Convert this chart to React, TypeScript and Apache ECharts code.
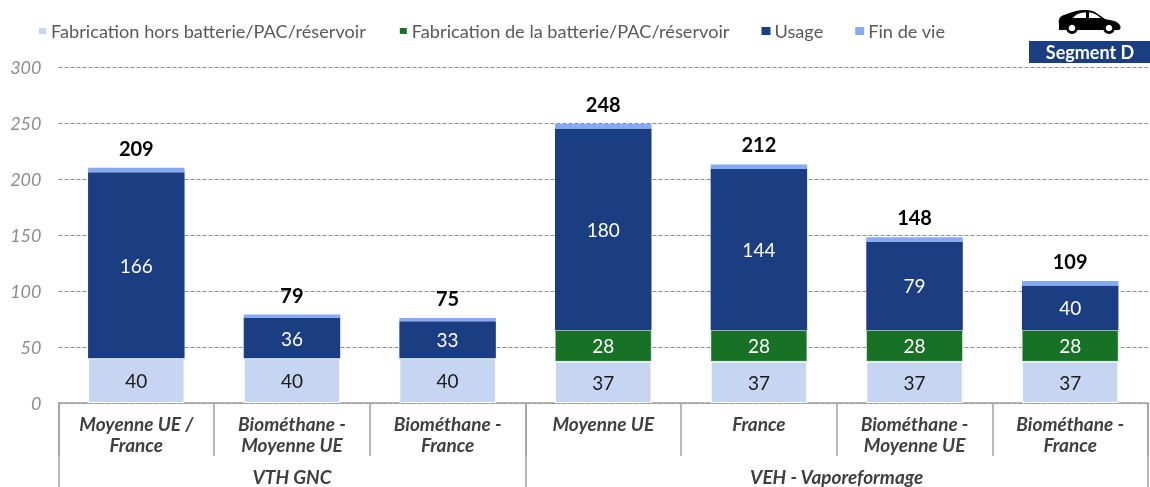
import React, { useEffect, useRef } from "react";
import * as echarts from "echarts";

const categories = ["Moyenne UE /\nFrance", "Biométhane -\nMoyenne UE", "Biométhane -\nFrance", "Moyenne UE", "France", "Biométhane -\nMoyenne UE", "Biométhane -\nFrance"];
const fabHors = [40, 40, 40, 37, 37, 37, 37];
const fabBatt = [null, null, null, 28, 28, 28, 28];
const usage = [166, 36, 33, 180, 144, 79, 40];
const finVie = [4, 3, 3, 4, 4, 4, 4];
const totals = [209, 79, 75, 248, 212, 148, 109];
const groups = ["VTH GNC", "VEH - Vaporeformage"];
const groupCenters = [1.5, 5];
const groupEdges = [0, 3, 7];
const seriesNames = ["Fabrication hors batterie/PAC/réservoir", "Fabrication de la batterie/PAC/réservoir", "Usage", "Fin de vie"];

const FONT = "Lato";
const CAR = "M1 14 C0 9 2 6 6 5 C10 4 13 2 18 1 C24 -0.5 32 -0.5 37 2 C40 4 44 7 47 9 C52 10 59 11 61 14 C63 16 63 19 61 20 L1 20 Z M15 8 L28 8 L28 2.5 C22 2.5 18 4 15 8 Z M31 8 L43 8 C39 5 36 2.5 31 2.5 Z M8 18 A6 6 0 1 1 20 18 A6 6 0 1 1 8 18 Z M45 18 A6 6 0 1 1 57 18 A6 6 0 1 1 45 18 Z";
echarts.graphic.registerShape("carshape", (echarts.graphic as any).extendPath(CAR, {}));

export default function App() {
  const ref = useRef<HTMLDivElement>(null);
  useEffect(() => {
    const chart = echarts.init(ref.current!, null, { renderer: "svg" });
    const inner = (color: string) => ({ show: true, position: "inside" as const, color, fontFamily: FONT, fontSize: 19 });
    chart.setOption({
      animation: false,
      textStyle: { fontFamily: FONT },
      legend: {
        left: 32, top: 17, itemWidth: 9, itemHeight: 8, itemGap: 32, icon: "rect",
        data: seriesNames,
        textStyle: { color: "#595959", fontFamily: FONT, fontSize: 18.2, padding: [0, 0, 0, -1] },
      },
      grid: { left: 58.5, right: 2, top: 67, bottom: 84 },
      xAxis: [
        {
          type: "category", data: categories,
          axisLine: { lineStyle: { color: "#a0a0a0", width: 1.5 } },
          axisTick: { show: true, alignWithLabel: false, length: 53, lineStyle: { color: "#a0a0a0", width: 1.5 } },
          axisLabel: { color: "#404040", fontFamily: FONT, fontStyle: "italic", fontWeight: "bold", fontSize: 19, lineHeight: 21, margin: 10, interval: 0 },
        },
        {
          type: "value", position: "bottom", min: 0, max: 7,
          splitLine: { show: false },
          axisLine: { show: false },
          axisTick: { show: true, customValues: groupEdges, length: 84, lineStyle: { color: "#a0a0a0", width: 1.5 } },
          axisLabel: {
            customValues: groupCenters, color: "#404040", fontFamily: FONT, fontStyle: "italic", fontWeight: "bold", fontSize: 19, margin: 64,
            formatter: (v: number) => groups[groupCenters.indexOf(v)] ?? "",
          },
        },
      ],
      yAxis: {
        type: "value", min: 0, max: 300, interval: 50,
        axisLine: { show: false }, axisTick: { show: false },
        axisLabel: { color: "#8c8c8c", fontFamily: FONT, fontStyle: "italic", fontSize: 18, margin: 17 },
        splitLine: { lineStyle: { color: "#8c8c8c", type: [4, 2], width: 1 } },
      },
      series: [
        { name: seriesNames[0], type: "bar", stack: "t", barWidth: "62%", data: fabHors, itemStyle: { color: "#c5d5f2", borderColor: "#fff", borderWidth: 1 }, label: inner("#1a1a1a") },
        { name: seriesNames[1], type: "bar", stack: "t", data: fabBatt, itemStyle: { color: "#177225", borderColor: "#fff", borderWidth: 0.5 }, label: inner("#fff") },
        { name: seriesNames[2], type: "bar", stack: "t", data: usage, itemStyle: { color: "#1b3d82" }, label: inner("#fff") },
        {
          name: seriesNames[3], type: "bar", stack: "t", data: finVie, itemStyle: { color: "#86a9f3" },
          label: {
            show: true, position: "top", distance: 10, color: "#000", fontFamily: FONT, fontWeight: "bold", fontSize: 20,
            formatter: (p: any) => String(totals[p.dataIndex]),
          },
        },
      ],
      graphic: [
        { type: "carshape", x: 1058, y: 10, style: { fill: "#000" } },
        { type: "circle", shape: { cx: 1072, cy: 28, r: 3.3 }, style: { fill: "#fff" } },
        { type: "circle", shape: { cx: 1109, cy: 28, r: 3.3 }, style: { fill: "#fff" } },
        { type: "rect", shape: { x: 1029, y: 41, width: 121, height: 22 }, style: { fill: "#1b3d82" } },
        { type: "text", x: 1090, y: 52, style: { text: "Segment D", fill: "#fff", font: `bold 18px ${FONT}`, align: "center", verticalAlign: "middle" } },
      ],
    });
    return () => chart.dispose();
  }, []);
  return <div ref={ref} style={{ position: "fixed", left: 0, top: 0, width: 1150, height: 487 }} />;
}
